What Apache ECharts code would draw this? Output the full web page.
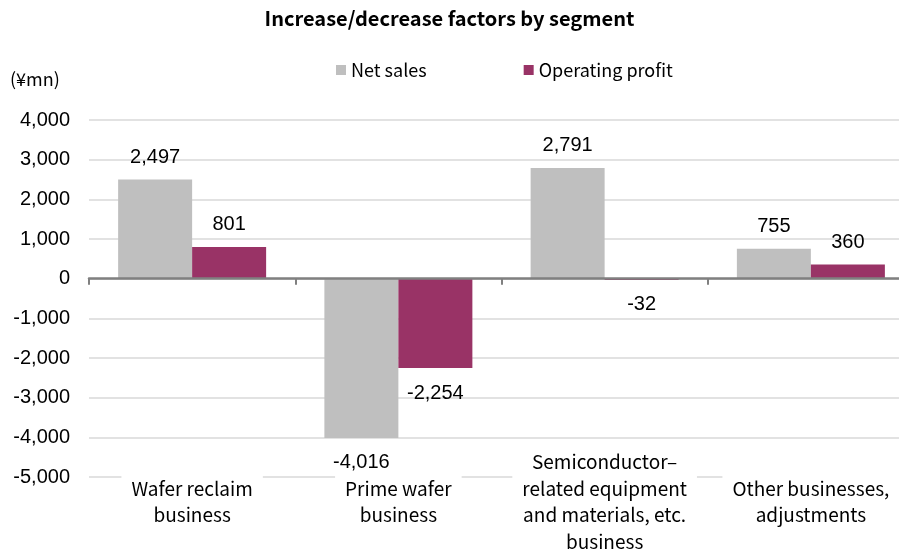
<!DOCTYPE html>
<html>
<head>
<meta charset="utf-8">
<title>Increase/decrease factors by segment</title>
<script src="https://cdn.jsdelivr.net/npm/echarts@6/dist/echarts.min.js"></script>
<style>
  html, body { margin: 0; padding: 0; background: #fff; }
  #chart { width: 899px; height: 553px; }
</style>
</head>
<body>
<div id="chart"></div>
<script>
  // data
  var categories = [
    'Wafer reclaim\nbusiness',
    'Prime wafer\nbusiness',
    'Semiconductor–\nrelated equipment\nand materials, etc.\nbusiness',
    'Other businesses,\nadjustments'
  ];
  var netSales = [2497, -4016, 2791, 755];
  var operatingProfit = [801, -2254, -32, 360];
  var yTicks = [-5000, -4000, -3000, -2000, -1000, 0, 1000, 2000, 3000, 4000];

  var jpFont = '"Noto Sans CJK JP", "Noto Sans", sans-serif';
  var numFont = '"Liberation Sans", Arial, sans-serif';

  // labels above positive bars, below negative ones
  function withLabels(values) {
    return values.map(function (v) {
      return {
        value: v,
        label: v < 0 ? { position: 'bottom', distance: 15 } : { position: 'top', distance: 12 }
      };
    });
  }

  var myChart = echarts.init(document.getElementById('chart'));
  var option = {
    backgroundColor: '#fff',
    animation: false,
    title: {
      text: 'Increase/decrease factors by segment',
      left: 'center',
      top: 3,
      textStyle: { fontFamily: jpFont, fontSize: 20, fontWeight: 'bold', color: '#000' }
    },
    legend: {
      data: ['Net sales', 'Operating profit'],
      left: 331,
      top: 56,
      itemWidth: 10,
      itemHeight: 10,
      itemGap: 97,
      icon: 'rect',
      textStyle: { fontFamily: jpFont, fontSize: 18, color: '#000' }
    },
    graphic: [{
      type: 'text',
      left: 10,
      top: 70,
      style: { text: '(¥mn)', font: '18px ' + jpFont, fill: '#000' }
    }],
    grid: { left: 89, right: -15, top: 120, bottom: 76, outerBoundsMode: 'none' },
    xAxis: [
      {
        type: 'category',
        data: categories,
        axisLine: { onZero: true, lineStyle: { color: '#808080', width: 2.5 } },
        axisTick: { show: true, length: 6, lineStyle: { color: '#808080', width: 2 } },
        axisLabel: { show: false },
        z: 4
      },
      {
        type: 'category',
        data: categories,
        position: 'bottom',
        axisLine: { show: false, onZero: false },
        axisTick: { show: false },
        z: 3,
        axisLabel: {
          interval: 0,
          margin: 25,
          verticalAlign: 'middle',
          fontFamily: jpFont,
          fontSize: 19,
          lineHeight: 26.5,
          color: '#000',
          backgroundColor: '#fff',
          padding: [2, 10]
        }
      }
    ],
    yAxis: {
      type: 'value',
      min: yTicks[0],
      max: yTicks[yTicks.length - 1],
      interval: 1000,
      axisLine: { show: false },
      axisTick: { show: false },
      splitLine: { lineStyle: { color: '#d9d9d9', width: 1.5 } },
      axisLabel: {
        margin: 19,
        fontFamily: numFont,
        fontSize: 20,
        color: '#000',
        formatter: function (v) { return v.toLocaleString('en-US'); }
      }
    },
    series: [
      {
        name: 'Net sales',
        type: 'bar',
        barWidth: 74,
        barGap: '0%',
        itemStyle: { color: '#bfbfbf' },
        label: {
          show: true,
          fontFamily: numFont,
          fontSize: 20,
          color: '#000',
          formatter: function (p) { return p.value.toLocaleString('en-US'); }
        },
        data: withLabels(netSales)
      },
      {
        name: 'Operating profit',
        type: 'bar',
        barWidth: 74,
        barGap: '0%',
        itemStyle: { color: '#993366' },
        label: {
          show: true,
          fontFamily: numFont,
          fontSize: 20,
          color: '#000',
          formatter: function (p) { return p.value.toLocaleString('en-US'); }
        },
        data: withLabels(operatingProfit)
      }
    ]
  };
  myChart.setOption(option);
</script>
</body>
</html>
